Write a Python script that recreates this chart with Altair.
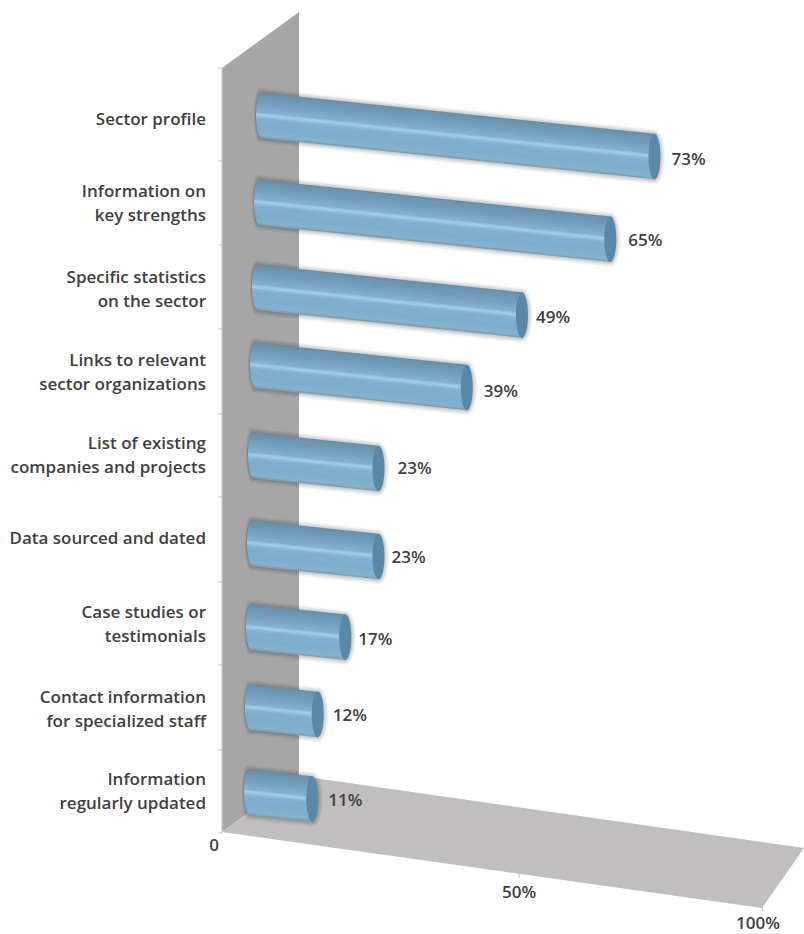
import altair as alt
import numpy as np
import pandas as pd

# ---- chart content -------------------------------------------------------
categories = [
    "Sector profile",
    "Information on\nkey strengths",
    "Specific statistics\non the sector",
    "Links to relevant\nsector organizations",
    "List of existing\ncompanies and projects",
    "Data sourced and dated",
    "Case studies or\ntestimonials",
    "Contact information\nfor specialized staff",
    "Information\nregularly updated",
]
shares = [73, 65, 49, 39, 23, 23, 17, 12, 11]
floor_ticks = ["0", "50%", "100%"]

# ---- oblique projection of the bars --------------------------------------
W, H = 804, 934
BAR_ORIGIN = 251.5      # screen x of a zero-length bar end
PX_PER_POINT = 5.52     # horizontal run per percentage point
SLOPE = 0.105           # downhill drift of a bar along its length
THICK = 45.5            # cylinder diameter on screen
CAP = 6.0               # horizontal semi-axis of the end ellipses

bar_left = [256, 254, 252, 250, 248, 247, 246, 245, 244]
bar_top = [92, 179, 264, 342, 432, 520, 604, 684, 769]
category_y = [120, 192, 278, 361, 444, 539, 613, 698, 780]
label_gap = [17, 18, 14, 17, 19, 13, 13, 15, 16]
label_dy = [3, 2, 3, 4, 1, 1, 3, 2, 2]
wall_ticks = [68, 161, 245, 329, 414, 497, 582, 665, 750, 833]

# Cross-section shading of the cylinder, top edge to bottom edge.
shade_t = [-1.0, -0.82, -0.45, -0.14, -0.05, 0.0, 0.05, 0.18, 0.6, 0.88, 1.0]
shade_rgb = [
    (102, 142, 168), (108, 150, 178), (118, 163, 193), (130, 177, 207),
    (152, 197, 226), (168, 210, 237), (146, 192, 222), (128, 176, 208),
    (126, 172, 203), (136, 178, 204), (118, 154, 178),
]


def shade(t):
    rgb = [np.interp(t, shade_t, [c[i] for c in shade_rgb]) for i in range(3)]
    return "#%02x%02x%02x" % tuple(int(round(v)) for v in rgb)


def half_ellipse(u):
    return np.sqrt(np.clip(1 - u ** 2, 0, 1))


def bar_rows():
    """Band, end-cap and shadow rows for every cylinder."""
    bands, caps, shadows = [], [], []
    n_bands = 36
    edges = np.linspace(-1, 1, n_bands + 1)
    for i, value in enumerate(shares):
        x0 = bar_left[i]
        xe = BAR_ORIGIN + PX_PER_POINT * value
        mid0 = bar_top[i] + THICK / 2

        def centre(x):
            return mid0 + SLOPE * (x - x0)

        # left rounding, then straight run up to the ellipse centre
        xs = np.concatenate([x0 + CAP * (1 - np.cos(np.linspace(0, np.pi / 2, 9))), [xe]])
        prof = np.where(xs < x0 + CAP, half_ellipse((x0 + CAP - xs) / CAP), 1.0)
        for b in range(n_bands):
            t1, t2 = edges[b], edges[b + 1]
            col = shade((t1 + t2) / 2)
            for x, p in zip(xs, prof):
                lo = np.clip(t1, -p, p)
                hi = np.clip(t2 + 0.03, -p, p)
                bands.append(dict(x=float(x), y=float(centre(x) + lo * THICK / 2),
                                  y2=float(centre(x) + hi * THICK / 2),
                                  fill=col, group=f"b{i}_{b}"))

        ang = np.linspace(np.pi, 0, 25)
        for x_u in np.cos(ang):
            x = xe + CAP * x_u
            p = half_ellipse(x_u)
            caps.append(dict(x=float(x), y=float(centre(xe) - p * THICK / 2),
                             y2=float(centre(xe) + p * THICK / 2), group=f"b{i}"))

        # stacked translucent outlines give the soft drop shadow
        for level, grow in enumerate([6.0, 4.5, 3.2, 2.0, 1.0]):
            a = CAP + grow * 0.8
            left = x0 - grow * 0.4
            sx = np.concatenate([
                left + CAP * (1 - np.cos(np.linspace(0, np.pi / 2, 9))),
                xe + a * np.cos(np.linspace(np.pi / 2, 0, 13)),
            ])
            for x in sx:
                if x < left + CAP:
                    p = half_ellipse((left + CAP - x) / CAP)
                elif x > xe:
                    p = half_ellipse((x - xe) / a)
                else:
                    p = 1.0
                half = (THICK / 2 + grow * 0.8) * p
                shadows.append(dict(x=float(x), y=float(centre(min(x, xe)) - half + 0.3),
                                    y2=float(centre(min(x, xe)) + half + 0.3),
                                    group=f"b{i}_{level}"))
    return pd.DataFrame(bands), pd.DataFrame(caps), pd.DataFrame(shadows)


bands, caps, shadows = bar_rows()

x_scale = alt.Scale(domain=[0, W], nice=False, zero=False)
y_scale = alt.Scale(domain=[H, 0], nice=False, zero=False)
X = alt.X("x:Q", scale=x_scale, axis=None)
Y = alt.Y("y:Q", scale=y_scale, axis=None, stack=None)

# ---- back wall and floor -------------------------------------------------
wall = pd.DataFrame({"x": [222, 299], "y": [68, 12], "y2": [832, 776]})
floor = pd.DataFrame({
    "x": [222, 300, 762, 804],
    "y": [832, 776, 842, 848],
    "y2": [832, 843, 908, 848],
})
wall_layer = alt.Chart(wall).mark_area(color="#a6a6a6", interpolate="linear").encode(
    x=X, y=Y, y2="y2:Q")
floor_layer = alt.Chart(floor).mark_area(color="#c0bebf", interpolate="linear").encode(
    x=X, y=Y, y2="y2:Q")

edge = pd.DataFrame({"x": [222, 222], "y": [68, 833]})
edge_layer = alt.Chart(edge).mark_line(color="#c9c9c9", strokeWidth=1.2).encode(x=X, y=Y)

tick_df = pd.DataFrame({"y": wall_ticks, "x": 218, "x2": 222})
tick_layer = alt.Chart(tick_df).mark_rule(color="#c4c4c4", strokeWidth=1).encode(
    x=X, x2="x2:Q", y=alt.Y("y:Q", scale=y_scale, axis=None))

floor_tick_df = pd.DataFrame({"x": [519, 762.5], "y": [873, 906], "y2": [878, 911]})
floor_tick_layer = alt.Chart(floor_tick_df).mark_rule(color="#c4c4c4", strokeWidth=1).encode(
    x=X, y=alt.Y("y:Q", scale=y_scale, axis=None), y2="y2:Q")

# ---- cylinders -----------------------------------------------------------
shadow_layer = alt.Chart(shadows).mark_area(color="#000000", opacity=0.045, interpolate="linear").encode(
    x=X, y=Y, y2="y2:Q", detail="group:N")
band_layer = alt.Chart(bands).mark_area(interpolate="linear").encode(
    x=X, y=Y, y2="y2:Q", color=alt.Color("fill:N", scale=None),
    detail="group:N")
cap_layer = alt.Chart(caps).mark_area(color="#5a88a8", interpolate="linear").encode(
    x=X, y=Y, y2="y2:Q", detail="group:N")

# ---- text ----------------------------------------------------------------
FONT = "Open Sans"
TEXT = "#404040"
FS = 17
cat_df = pd.DataFrame({"label": categories, "y": category_y, "x": 206})
cat_layer = alt.Chart(cat_df).mark_text(
    font=FONT, fontSize=FS, fontWeight=600, color=TEXT, align="right",
    baseline="middle", lineBreak="\n", lineHeight=24,
).encode(x=X, y=alt.Y("y:Q", scale=y_scale, axis=None), text="label:N")

val_rows = []
for i, value in enumerate(shares):
    xe = BAR_ORIGIN + PX_PER_POINT * value
    val_rows.append(dict(
        x=xe + CAP + label_gap[i] - 6,
        y=bar_top[i] + THICK / 2 + SLOPE * (xe - bar_left[i]) + label_dy[i],
        label=f"{value}%",
    ))
val_layer = alt.Chart(pd.DataFrame(val_rows)).mark_text(
    font=FONT, fontSize=FS, fontWeight=600, color=TEXT, align="left", baseline="middle",
).encode(x=X, y=alt.Y("y:Q", scale=y_scale, axis=None), text="label:N")

floor_label_df = pd.DataFrame({
    "label": floor_ticks, "x": [214, 519, 758], "y": [846, 893, 924],
})
floor_label_layer = alt.Chart(floor_label_df).mark_text(
    font=FONT, fontSize=FS, fontWeight=600, color=TEXT, align="center", baseline="middle",
).encode(x=X, y=alt.Y("y:Q", scale=y_scale, axis=None), text="label:N")

chart = alt.layer(
    wall_layer, floor_layer, edge_layer, tick_layer, floor_tick_layer,
    shadow_layer, band_layer, cap_layer,
    cat_layer, val_layer, floor_label_layer,
).properties(width=W, height=H, padding=0, background="#ffffff").configure_view(stroke=None)

chart.save("out.html", embed_options={"renderer": "svg", "actions": False})
